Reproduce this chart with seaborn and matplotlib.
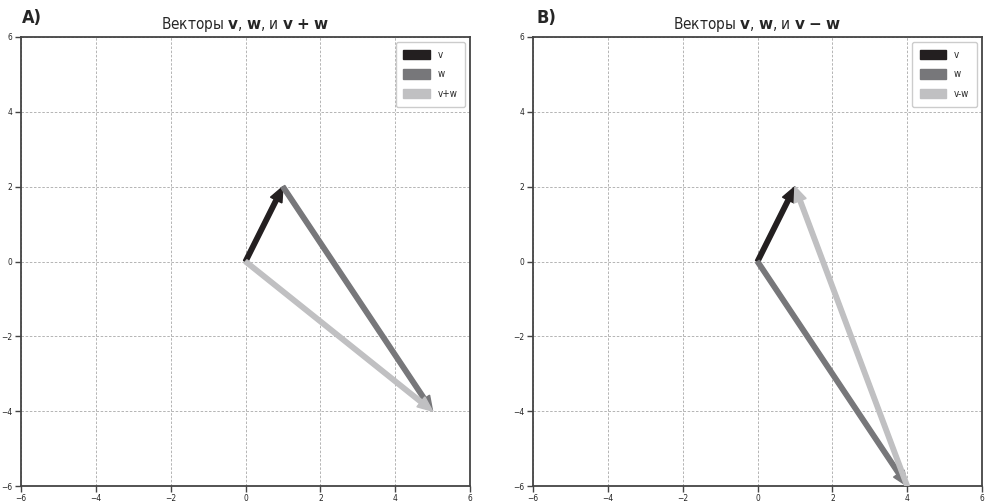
import matplotlib
matplotlib.use("Agg")
import matplotlib.pyplot as plt
import seaborn as sns

# vectors
v = [1, 2]
w = [4, -6]
v_plus_w = [5, -4]
v_minus_w = [-3, 8]
origin = [0, 0]

colors = {"v": "#231f20", "w": "#77777a", "res": "#c0c0c2"}
ticks = [-6, -4, -2, 0, 2, 4, 6]

sns.set_style("whitegrid")
plt.rcParams['font.family'] = ['DejaVu Sans']
plt.rcParams['mathtext.fontset'] = 'dejavusans'
narrow = 'condensed'

fig = plt.figure(figsize=(9.85, 5.04), dpi=100)
axA = fig.add_axes([21 / 985, 18 / 504, 449 / 985, 449 / 504])
axB = fig.add_axes([533 / 985, 18 / 504, 449 / 985, 449 / 504])

arrow_kw = dict(width=0.12, head_width=0.34, head_length=0.4,
                length_includes_head=True)


def draw(ax, arrows, title, letter, x0):
    for (start, vec, col, lab) in arrows:
        ax.arrow(start[0], start[1], vec[0], vec[1], color=col, label=lab,
                 zorder=3, **arrow_kw)
    ax.set_xlim(-6, 6)
    ax.set_ylim(-6, 6)
    ax.set_xticks(ticks)
    ax.set_yticks(ticks)
    ax.tick_params(labelsize=6, length=4, width=1, color="#444444",
                   left=True, bottom=True, pad=2)
    for lbl in ax.get_xticklabels() + ax.get_yticklabels():
        lbl.set_fontstretch(narrow)
    ax.grid(True, linestyle=(0, (3, 2)), linewidth=0.6, color="#a8a8a8")
    for s in ax.spines.values():
        s.set_color("#444444")
        s.set_linewidth(1.3)
    ax.set_title(title, fontsize=11, pad=6, fontstretch=narrow)
    ax.legend(loc="upper right", prop=dict(size=7, stretch=narrow),
              handlelength=2.7, handleheight=1.1, labelspacing=1.0,
              borderpad=0.8, fancybox=True, framealpha=1, edgecolor="#cccccc")
    fig.text(x0, 0.955, letter, fontsize=13, fontweight="bold",
             fontstretch=narrow)


draw(axA,
     [(origin, v, colors["v"], "v"),
      (v, w, colors["w"], "w"),
      (origin, v_plus_w, colors["res"], "v+w")],
     r"Векторы $\mathbf{v}$, $\mathbf{w}$, и $\mathbf{v}$ $\mathbf{+}$ $\mathbf{w}$",
     "A)", 22 / 985)

draw(axB,
     [(origin, v, colors["v"], "v"),
      (origin, w, colors["w"], "w"),
      (w, v_minus_w, colors["res"], "v-w")],
     r"Векторы $\mathbf{v}$, $\mathbf{w}$, и $\mathbf{v}$ $\mathbf{-}$ $\mathbf{w}$",
     "B)", 537 / 985)

fig.savefig("out.png", dpi=100)
